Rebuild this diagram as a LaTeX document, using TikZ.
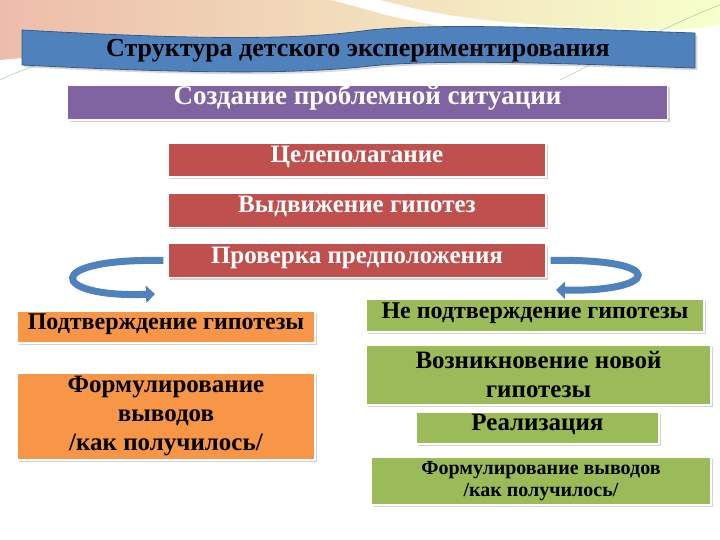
\documentclass[tikz,border=0pt]{standalone}
\usepackage{fontspec}
\setmainfont{Liberation Serif}
\usetikzlibrary{shadows,arrows.meta}
\definecolor{cblue}{HTML}{4F81BD}
\definecolor{cpurp}{HTML}{8064A2}
\definecolor{cred}{HTML}{C0504D}
\definecolor{corg}{HTML}{F79646}
\definecolor{cgrn}{HTML}{9BBB59}
\tikzset{
 box/.style={draw=white,line width=1.2pt,minimum height=34pt,align=center,inner sep=1pt,font=\bfseries\fontsize{25}{29}\selectfont,drop shadow={shadow xshift=2pt,shadow yshift=-2pt,opacity=0.35}},
 oneline/.style={text height=0.62em,text depth=0.12em},
 redbox/.style={box,oneline,fill=cred,text=white,minimum width=378pt},
 orgbox/.style={box,fill=corg,text=black},
 grnbox/.style={box,fill=cgrn,text=black},
 loop/.style={draw=cblue,line width=7pt,-{Triangle[width=17pt,length=9pt]}}
}
\begin{document}
\begin{tikzpicture}[x=1pt,y=-1pt]
\useasboundingbox (0,0) rectangle (720,540);
\fill[white] (0,0) rectangle (720,540);
% background decoration
\shade[left color=red!30!brown!40,right color=green!15!yellow!20] (0,0) -- (720,0) -- (720,25) .. controls (500,55) and (200,40) .. (0,60) -- cycle;
\fill[white] (330,0) .. controls (380,10) and (420,40) .. (720,45) -- (720,30) .. controls (480,30) and (420,10) .. (380,0) -- cycle;
\draw[green!30!gray!50,line width=0.6pt] (560,80) .. controls (620,50) and (680,20) .. (720,5);
\draw[green!30!gray!50,line width=0.6pt] (0,80) .. controls (20,70) and (40,65) .. (60,55);
% banner
\filldraw[fill=cblue,draw=cblue!70!black,line width=0.8pt,drop shadow={opacity=0.3}] (22,30) .. controls (200,40) and (300,40) .. (370,30) .. controls (450,22) and (600,30) .. (695,33) -- (695,68) .. controls (600,65) and (450,58) .. (370,66) .. controls (300,74) and (200,74) .. (22,65) -- cycle;
\node[font=\bfseries\fontsize{26}{30}\selectfont] (title) at (358,51) {Структура детского экспериментирования};
\node[box,oneline,fill=cpurp,text=white,minimum width=600pt,minimum height=35pt,font=\bfseries\fontsize{27}{30}\selectfont] (sit) at (367.5,102.5) {Создание проблемной ситуации};
\node[redbox] (cel) at (357,160) {Целеполагание};
\node[redbox] (vyd) at (357,210.5) {Выдвижение гипотез};
\node[redbox] (prov) at (357,260.5) {Проверка предположения};
\node[orgbox,oneline,minimum width=298pt,minimum height=32pt,font=\bfseries\fontsize{24}{28}\selectfont] (podt) at (166,327) {Подтверждение гипотезы};
\node[orgbox,minimum width=298pt,minimum height=87pt] (form1) at (166,416.5) {Формулирование\\выводов\\/как получилось/};
\node[grnbox,oneline,minimum width=338pt,minimum height=33pt,font=\bfseries\fontsize{24}{28}\selectfont] (nepodt) at (535,315.5) {Не подтверждение гипотезы};
\node[grnbox,minimum width=345pt,minimum height=60pt] (vozn) at (538.5,375) {Возникновение новой\\гипотезы};
\node[grnbox,oneline,minimum width=243pt,minimum height=32pt] (real) at (537.5,428) {Реализация};
\node[grnbox,minimum width=340pt,minimum height=48pt,font=\bfseries\fontsize{20}{22}\selectfont] (form2) at (541,481) {Формулирование выводов\\/как получилось/};
% loops
\coordinate (la) at (155,294);
\coordinate (ra) at (556,290);
\draw[loop] ([xshift=-4pt]prov.west) .. controls (40,258) and (50,298) .. (la);
\draw[loop] ([xshift=4pt]prov.east) .. controls (670,258) and (660,292) .. (ra);
\end{tikzpicture}
\end{document}
